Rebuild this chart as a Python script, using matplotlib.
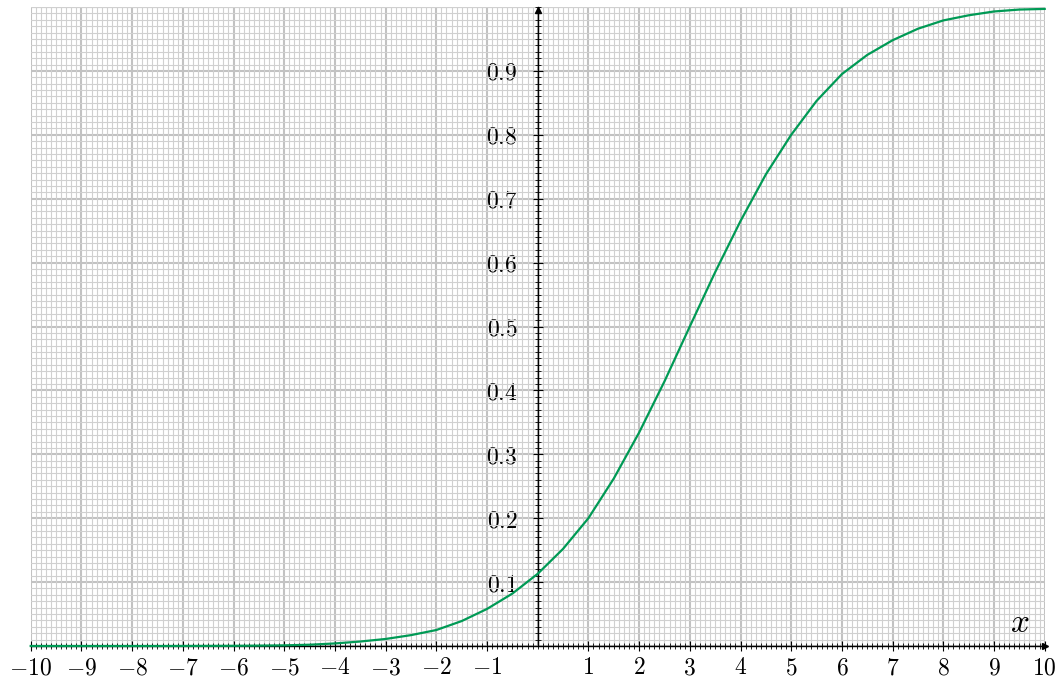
import numpy as np
import matplotlib
matplotlib.use("Agg")
import matplotlib.pyplot as plt
from matplotlib.ticker import MultipleLocator, FixedLocator

plt.rcParams['mathtext.fontset'] = 'cm'
plt.rcParams['font.family'] = 'DejaVu Serif'

# Curve values (x step 0.5)
x_vals = [-10, -9.5, -9, -8.5, -8, -7.5, -7, -6.5, -6, -5.5, -5, -4.5, -4, -3.5, -3,
          -2.5, -2, -1.5, -1, -0.5, 0, 0.5, 1, 1.5, 2, 2.5, 3, 3.5, 4, 4.5, 5,
          5.5, 6, 6.5, 7, 7.5, 8, 8.5, 9, 9.5, 10]
y_vals = [0.0, 0.0, 0.0, 0.0, 0.0, 0.0, 0.0001, 0.0002, 0.0003, 0.0006, 0.001, 0.002, 0.004, 0.007, 0.011,
          0.017, 0.025, 0.039, 0.058, 0.082, 0.113, 0.152, 0.200, 0.262, 0.334, 0.414, 0.500, 0.585, 0.665, 0.738, 0.800,
          0.853, 0.895, 0.925, 0.948, 0.966, 0.979, 0.987, 0.993, 0.996, 0.997]

x_ticks = [-10, -9, -8, -7, -6, -5, -4, -3, -2, -1, 1, 2, 3, 4, 5, 6, 7, 8, 9, 10]
y_ticks = [0.1, 0.2, 0.3, 0.4, 0.5, 0.6, 0.7, 0.8, 0.9]

fig = plt.figure(figsize=(10.58, 6.8), dpi=100)
ax = fig.add_axes([30.7 / 1058, 34 / 680, 1014 / 1058, 639 / 680])
ax.set_xlim(-10, 10)
ax.set_ylim(0, 1.0)

# grid
ax.xaxis.set_major_locator(FixedLocator(x_ticks))
ax.xaxis.set_minor_locator(MultipleLocator(0.1))
ax.yaxis.set_major_locator(FixedLocator(y_ticks))
ax.yaxis.set_minor_locator(MultipleLocator(0.01))
for gx in np.arange(-10, 10.01, 1):
    ax.axvline(gx, color='#c2c2c2', lw=1.5, zorder=1)
for gy in np.arange(0, 1.001, 0.1):
    ax.axhline(gy, color='#c2c2c2', lw=1.5, zorder=1)
ax.grid(which='minor', color='#d0d0d0', lw=0.8, zorder=0)

# spines
ax.spines['left'].set_position(('data', 0))
ax.spines['top'].set_visible(False)
ax.spines['right'].set_visible(False)
ax.spines['left'].set_linewidth(1.0)
ax.spines['bottom'].set_linewidth(1.0)
ax.spines['left'].set_zorder(3)
ax.spines['bottom'].set_zorder(3)

ax.tick_params(axis='both', which='major', direction='inout', length=7, width=0.8, color='black')
ax.tick_params(axis='both', which='minor', direction='inout', length=4, width=0.6, color='black')
ax.tick_params(axis='x', which='major', pad=4, labelsize=17)
ax.tick_params(axis='y', which='major', pad=11, labelsize=17)

ax.set_xticklabels([r'$%d$' % t for t in x_ticks])
ax.set_yticklabels([r'$%.1f$' % t for t in y_ticks])

# arrows
ax.plot(1, 0, '>', color='black', ms=5, transform=ax.get_yaxis_transform(), clip_on=False, zorder=4)
ax.plot(0, 0.995, '^', color='black', ms=5, transform=ax.get_xaxis_transform(), clip_on=False, zorder=4)

# curve
ax.plot(x_vals, y_vals, color='#009a55', lw=1.6, zorder=5, clip_on=False)

ax.text(9.5, 0.036, r'$x$', fontsize=24, ha='center', va='center', zorder=6)

fig.savefig('out.png', dpi=100)
